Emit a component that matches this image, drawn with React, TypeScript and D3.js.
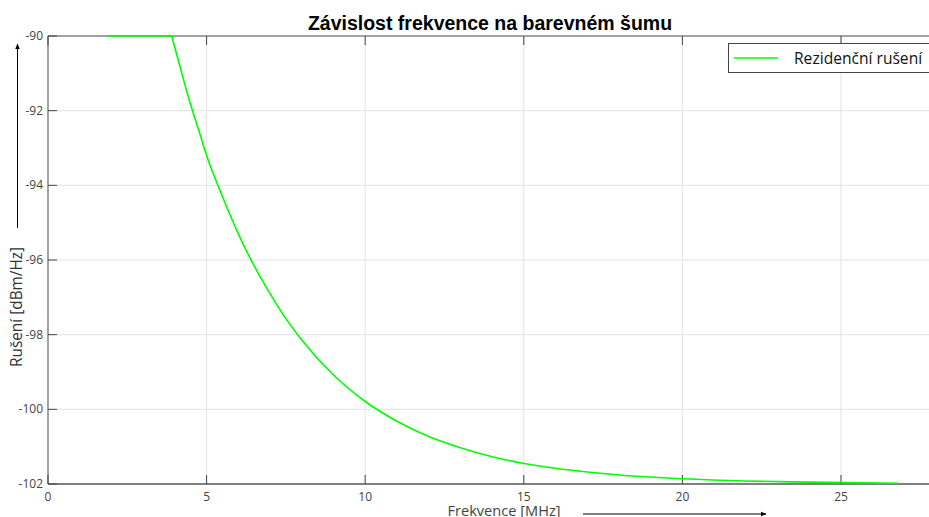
import React from "react";
import * as d3 from "d3";

const freqMHz = [1.86, 3.9, 4.25, 4.5, 4.75, 5, 5.5, 6, 6.5, 7, 7.5, 8, 9, 10, 11, 12, 13, 14, 15, 16, 17, 18, 20, 22, 24, 26.8];
const noiseDbm = [-90, -90, -91.1, -91.85, -92.52, -93.2, -94.3, -95.3, -96.16, -96.9, -97.57, -98.14, -99.08, -99.79, -100.32, -100.73, -101.03, -101.27, -101.45, -101.58, -101.68, -101.76, -101.86, -101.92, -101.95, -101.98];
const xTicks = [0, 5, 10, 15, 20, 25];
const yTicks = [-90, -92, -94, -96, -98, -100, -102];
const titleText = "Závislost frekvence na barevném šumu";
const xLabel = "Frekvence [MHz]";
const yLabel = "Rušení [dBm/Hz]";
const legendLabel = "Rezidenční rušení";

const W = 929;
const H = 517;
const M = { left: 48, top: 36, bottom: 484 };

export default function App() {
  const x = d3.scaleLinear().domain([0, 28]).range([M.left, M.left + 28 * 31.72]);
  const y = d3.scaleLinear().domain([-102, -90]).range([M.bottom, M.top]);
  const pts = freqMHz.map((f, i) => [f, noiseDbm[i]] as [number, number]);
  const flat = pts.filter(p => p[1] >= -90);
  const decay = pts.slice(flat.length - 1);
  const lineFlat = d3.line<[number, number]>().x(d => x(d[0])).y(d => y(d[1]));
  const lineDecay = d3.line<[number, number]>().x(d => x(d[0])).y(d => y(d[1])).curve(d3.curveMonotoneX);
  const right = x(28);
  const font = "'Open Sans', sans-serif";
  return (
    <svg width={W} height={H} style={{ position: "absolute", left: 0, top: 0, display: "block" }}>
      <rect x={0} y={0} width={W} height={H} fill="#fff" />
      {xTicks.filter(t => t > 0).map(t => (
        <line key={"gx" + t} x1={x(t)} x2={x(t)} y1={M.top} y2={M.bottom} stroke="#e3e3e3" strokeWidth={1} />
      ))}
      {yTicks.filter(t => t > -102 && t < -90).map(t => (
        <line key={"gy" + t} x1={M.left} x2={right} y1={y(t)} y2={y(t)} stroke="#e3e3e3" strokeWidth={1} />
      ))}
      <line x1={M.left} x2={right} y1={M.top} y2={M.top} stroke="#444" strokeWidth={1} />
      <line x1={M.left} x2={right} y1={M.bottom} y2={M.bottom} stroke="#555" strokeWidth={1.3} />
      <line x1={M.left} x2={M.left} y1={M.top} y2={M.bottom} stroke="#444" strokeWidth={1} />
      {xTicks.map(t => (
        <g key={"tx" + t}>
          <line x1={x(t)} x2={x(t)} y1={M.bottom} y2={M.bottom - 9} stroke="#444" />
          <line x1={x(t)} x2={x(t)} y1={M.top} y2={M.top + 9} stroke="#444" />
          <text x={x(t)} y={501} textAnchor="middle" fontFamily={font} fontSize={12} fill="#444">{t}</text>
        </g>
      ))}
      {yTicks.map(t => (
        <g key={"ty" + t}>
          <line x1={M.left} x2={M.left + 9} y1={y(t)} y2={y(t)} stroke="#444" />
          <text x={43} y={y(t) + 4} textAnchor="end" fontFamily={font} fontSize={12} fill="#444">{t}</text>
        </g>
      ))}
      <path d={lineFlat(flat) || ""} fill="none" stroke="#00ff00" strokeWidth={1.6} />
      <path d={lineDecay(decay) || ""} fill="none" stroke="#00ff00" strokeWidth={1.6} />
      <text x={490} y={30} textAnchor="middle" fontFamily="'Liberation Sans', Arial, sans-serif" fontWeight="bold" fontSize={19.5} fill="#000">{titleText}</text>
      <rect x={728.5} y={43.5} width={260} height={29} fill="#fff" stroke="#444" strokeWidth={1} />
      <line x1={734} x2={778} y1={58} y2={58} stroke="#00ff00" strokeWidth={1.6} />
      <text x={794} y={63.5} fontFamily={font} fontSize={15.6} fill="#111">{legendLabel}</text>
      <text x={504} y={516} textAnchor="middle" fontFamily={font} fontSize={14.6} fill="#444">{xLabel}</text>
      <defs>
        <marker id="ah" viewBox="0 0 10 10" refX={9} refY={5} markerWidth={6} markerHeight={6} orient="auto">
          <path d="M0,1 L10,5 L0,9 z" fill="#000" />
        </marker>
      </defs>
      <line x1={583} x2={766} y1={514} y2={514} stroke="#000" strokeWidth={1} markerEnd="url(#ah)" />
      <text transform={`translate(22,307) rotate(-90)`} textAnchor="middle" fontFamily={font} fontSize={15.4} fill="#333">{yLabel}</text>
      <line x1={17.5} x2={17.5} y1={228} y2={44} stroke="#000" strokeWidth={1} markerEnd="url(#ah)" />
    </svg>
  );
}
